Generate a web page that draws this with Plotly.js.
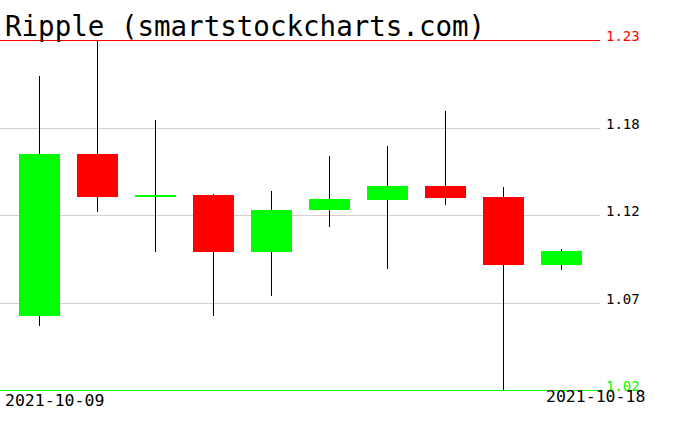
<!DOCTYPE html>
<html>
<head>
<meta charset="utf-8">
<script src="https://cdn.plot.ly/plotly-3.0.1.min.js"></script>
<style>
html,body{margin:0;padding:0;background:#fff;}
#chart{width:676px;height:431px;}
</style>
</head>
<body>
<div id="chart"></div>
<script>
const dates = ['2021-10-09','2021-10-10','2021-10-11','2021-10-12','2021-10-13','2021-10-14','2021-10-15','2021-10-16','2021-10-17','2021-10-18'];
const openV  = [1.0639, 1.1615, 1.1356, 1.1372, 1.1023, 1.1281, 1.1338, 1.1423, 1.1356, 1.0948];
const highV  = [1.2093, 1.2305, 1.1824, 1.1375, 1.1396, 1.1608, 1.1663, 1.1877, 1.1417, 1.1043];
const lowV   = [1.0574, 1.1265, 1.1025, 1.0639, 1.0756, 1.1178, 1.0920, 1.1307, 1.0185, 1.0914];
const closeV = [1.1615, 1.1356, 1.1372, 1.1023, 1.1281, 1.1342, 1.1423, 1.1348, 1.0948, 1.1033];
const tickVals = [1.0185, 1.0715, 1.1245, 1.1775, 1.2305];
const tickLabels = ['1.02', '1.07', '1.12', '1.18', '1.23'];
const titleText = 'Ripple (smartstockcharts.com)';

const UP = '#00ff00', DOWN = '#ff0000';
const maxV = Math.max(...highV), minV = Math.min(...lowV);

const wicks = {
  type: 'bar',
  x: dates,
  base: lowV,
  y: highV.map((h, i) => h - lowV[i]),
  width: 0.0138,
  marker: {color: '#000000', line: {width: 0}},
  hoverinfo: 'skip',
  showlegend: false
};
const bodies = {
  type: 'bar',
  x: dates,
  base: openV.map((o, i) => Math.min(o, closeV[i])),
  y: openV.map((o, i) => Math.abs(closeV[i] - o)),
  width: 0.69,
  marker: {color: openV.map((o, i) => closeV[i] >= o ? UP : DOWN), line: {width: 0}},
  hoverinfo: 'skip',
  showlegend: false
};

const ticktext = tickLabels.map((t, i) => {
  if (tickVals[i] === maxV) return '<span style="color:#ff0000">' + t + '</span>';
  if (tickVals[i] === minV) return '<span style="color:#00ff00">' + t + '</span>';
  return t;
});

const FONT = '"DejaVu Sans Mono", monospace';
const layout = {
  width: 676, height: 431,
  margin: {l: 0, r: 76, t: 35, b: 36, pad: 0},
  paper_bgcolor: '#ffffff', plot_bgcolor: '#ffffff',
  barmode: 'overlay',
  bargap: 0,
  showlegend: false,
  title: {
    text: titleText,
    font: {family: FONT, size: 27.5, color: '#000000'},
    x: 5/676, xref: 'container', xanchor: 'left',
    y: 1 - 26.4/431, yref: 'container', yanchor: 'middle'
  },
  xaxis: {
    type: 'category',
    range: [-0.681, 9.664],
    showgrid: false, zeroline: false, showline: false,
    showticklabels: false, ticks: '', fixedrange: true
  },
  yaxis: {
    side: 'right',
    range: [1.015774, 1.233831],
    tickmode: 'array', tickvals: tickVals, ticktext: ticktext,
    showgrid: true, gridcolor: '#d0d0d0', gridwidth: 1,
    zeroline: false, showline: false, ticks: '',
    ticklabelshift: -4,
    ticklabelstandoff: 5,
    tickfont: {family: FONT, size: 14, color: '#000000'},
    fixedrange: true
  },
  shapes: [
    {type: 'line', xref: 'paper', yref: 'y', x0: 0, x1: 1, y0: maxV, y1: maxV, line: {color: '#ff0000', width: 1}},
    {type: 'line', xref: 'paper', yref: 'y', x0: 0, x1: 1, y0: minV, y1: minV, line: {color: '#00ff00', width: 1}}
  ],
  annotations: [
    {text: dates[0], xref: 'paper', yref: 'paper', x: 3/600, y: -5.5/360, xanchor: 'left', yanchor: 'middle', showarrow: false,
     font: {family: FONT, size: 16.5, color: '#000000'}},
    {text: dates[dates.length - 1], xref: 'paper', yref: 'paper', x: 647/600, y: -1/360, xanchor: 'right', yanchor: 'middle', showarrow: false,
     font: {family: FONT, size: 16.5, color: '#000000'}}
  ]
};

Plotly.newPlot('chart', [wicks, bodies], layout, {displayModeBar: false, responsive: false});
</script>
</body>
</html>
